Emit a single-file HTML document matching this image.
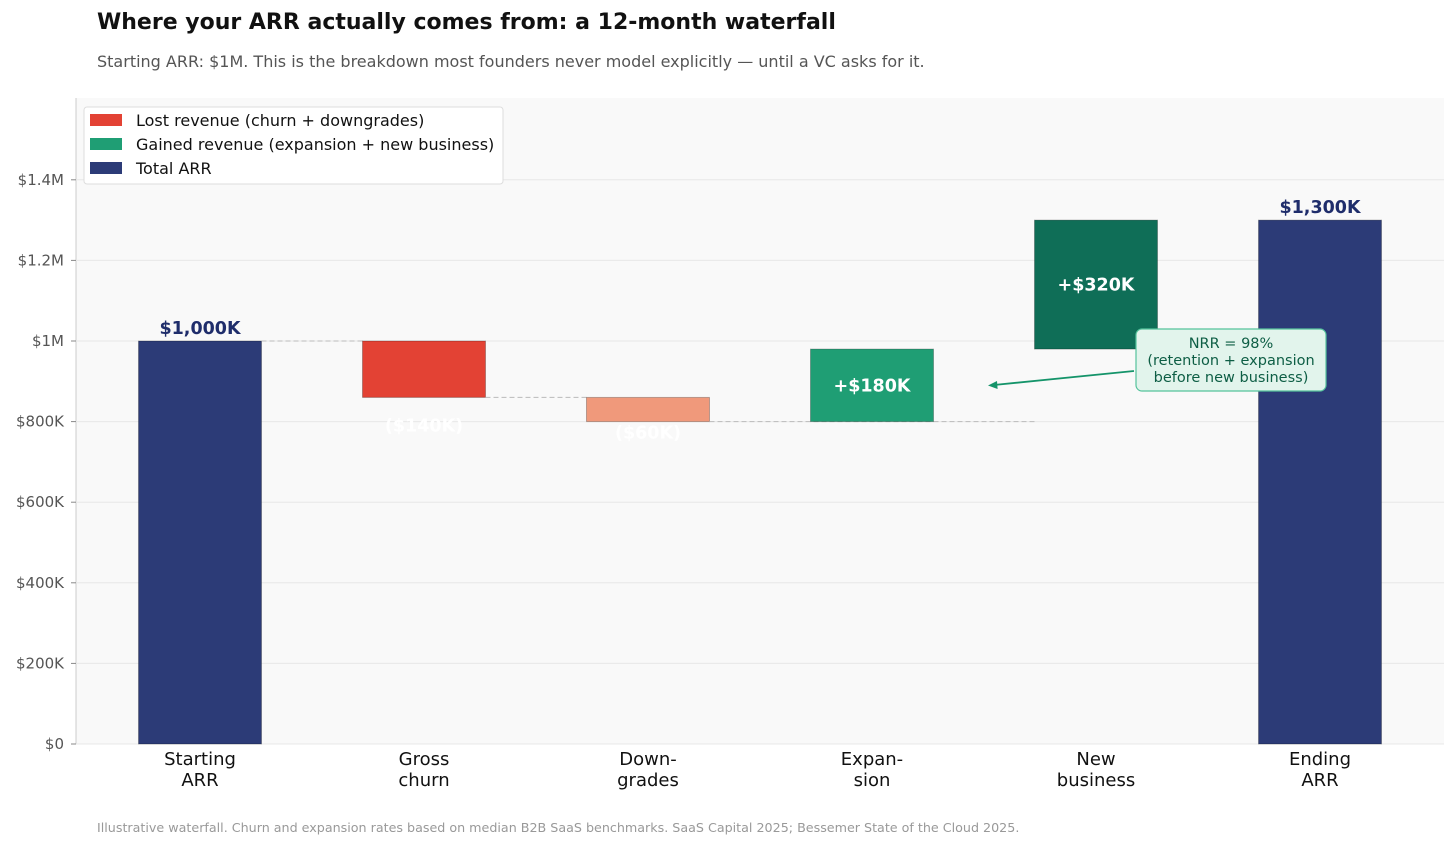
<!DOCTYPE html>
<html><head><meta charset="utf-8"><style>
body{margin:0;background:#fff;font-family:"DejaVu Sans","Liberation Sans",sans-serif;}
svg text{font-family:"DejaVu Sans","Liberation Sans",sans-serif;}
</style></head><body>
<svg id="c" width="1456" height="847" xmlns="http://www.w3.org/2000/svg">
<text x="97" y="29" font-size="22" font-weight="bold" fill="#111">Where your ARR actually comes from: a 12-month waterfall</text>
<text x="97" y="67" font-size="16" fill="#555">Starting ARR: $1M. This is the breakdown most founders never model explicitly — until a VC asks for it.</text>
<rect x="76" y="98" width="1368" height="646" fill="#f9f9f9"/>
<line x1="76" y1="98" x2="76" y2="744" stroke="#ccc"/>
<g id="grid"></g><g id="bars"></g>
<text x="97" y="832" font-size="12.7" fill="#999">Illustrative waterfall. Churn and expansion rates based on median B2B SaaS benchmarks. SaaS Capital 2025; Bessemer State of the Cloud 2025.</text>
</svg>
<script>
const categories=["Starting\nARR","Gross\nchurn","Down-\ngrades","Expan-\nsion","New\nbusiness","Ending\nARR"];
const deltas=[1000,-140,-60,180,320,1300];
const kinds=["total","loss","loss2","gain","gain2","total"];
const labels=["$1,000K","($140K)","($60K)","+$180K","+$320K","$1,300K"];
const yTicks=[0,200,400,600,800,1000,1200,1400];
const yTickLabels=["$0","$200K","$400K","$600K","$800K","$1M","$1.2M","$1.4M"];
const colors={total:"#2c3b77",loss:"#e34234",loss2:"#f0997b",gain:"#1f9e74",gain2:"#0f6e57"};
const NS="http://www.w3.org/2000/svg";
const y=v=>744-v*0.403;
const x=i=>200+224*i;
const W=123;
function mk(t,a,p){const e=document.createElementNS(NS,t);for(const k in a)e.setAttribute(k,a[k]);p.appendChild(e);return e;}
const grid=document.getElementById('grid'),bars=document.getElementById('bars');
yTicks.forEach((v,i)=>{
 const l=mk('line',{x1:76,x2:1444,y1:y(v),y2:y(v),stroke:'#e8e8e8'},grid);
 
 
 mk('line',{x1:71,x2:76,y1:y(v),y2:y(v),stroke:'#888'},grid);
 const t=mk('text',{x:64,y:y(v)+5,'text-anchor':'end','font-size':15,fill:'#555'},grid);
 t.textContent=yTickLabels[i];
 
 
});
let run=0;
deltas.forEach((d,i)=>{
 let lo,hi;
 if(kinds[i]==='total'){lo=0;hi=d;run=d;}
 else{const s=run;run=s+d;lo=Math.min(s,run);hi=Math.max(s,run);}
 const r=mk('rect',{x:x(i)-W/2,y:y(hi),width:W,height:y(lo)-y(hi),fill:colors[kinds[i]],stroke:'rgba(0,0,0,0.25)','stroke-width':1},bars);
 
 
 let ly,col='#fff';
 if(kinds[i]==='total'){ly=y(hi)-7;col='#1f2d6b';}
 else if(d<0){ly=y(lo)+4+0.53*(y(lo)-y(hi));}
 else ly=(y(lo)+y(hi))/2+6;
 const t=mk('text',{x:x(i),y:ly,'text-anchor':'middle','font-size':17.5,'font-weight':'bold',fill:col},bars);
 t.textContent=labels[i];
 
 
 categories[i].split('\n').forEach((s,j)=>{
  const c=mk('text',{x:x(i),y:765+j*21,'text-anchor':'middle','font-size':18,fill:'#111'},bars);
  c.textContent=s;
  
  
 });
 if(i<3){
  const x2=(i==2)?x(4)-W/2:x(i+1)-W/2;
  const cl=mk('line',{x1:x(i)+W/2,x2:x2,y1:y(run),y2:y(run),stroke:'#bbb','stroke-dasharray':'5,3'},bars);
  
  
 }
});
const ag=mk('g',{},bars);


mk('line',{x1:1134,y1:371,x2:994,y2:385,stroke:'#15946a','stroke-width':1.8},ag);
mk('path',{d:'M988,385.5 L997,381 L997.6,389 Z',fill:'#15946a'},ag);
mk('rect',{x:1136,y:329,width:190,height:62,rx:6,fill:'#e2f4ec',stroke:'#55c39c','stroke-width':1.2},ag);
["NRR = 98%","(retention + expansion","before new business)"].forEach((s,j)=>{
 const t=mk('text',{x:1231,y:348+j*17,'text-anchor':'middle','font-size':14.5,fill:'#0e5e45'},ag);t.textContent=s;
});
const lg=mk('g',{},bars);


mk('rect',{x:84,y:107,width:419,height:77,rx:3,fill:'#fff',stroke:'#ddd'},lg);
[["Lost revenue (churn + downgrades)","#e34234"],["Gained revenue (expansion + new business)","#1f9e74"],["Total ARR","#2c3b77"]].forEach((e,j)=>{
 mk('rect',{x:90,y:114+j*24,width:32,height:12,fill:e[1]},lg);
 const t=mk('text',{x:136,y:126+j*24,'font-size':16,fill:'#111'},lg);t.textContent=e[0];
 
 
});
</script>
</body></html>
